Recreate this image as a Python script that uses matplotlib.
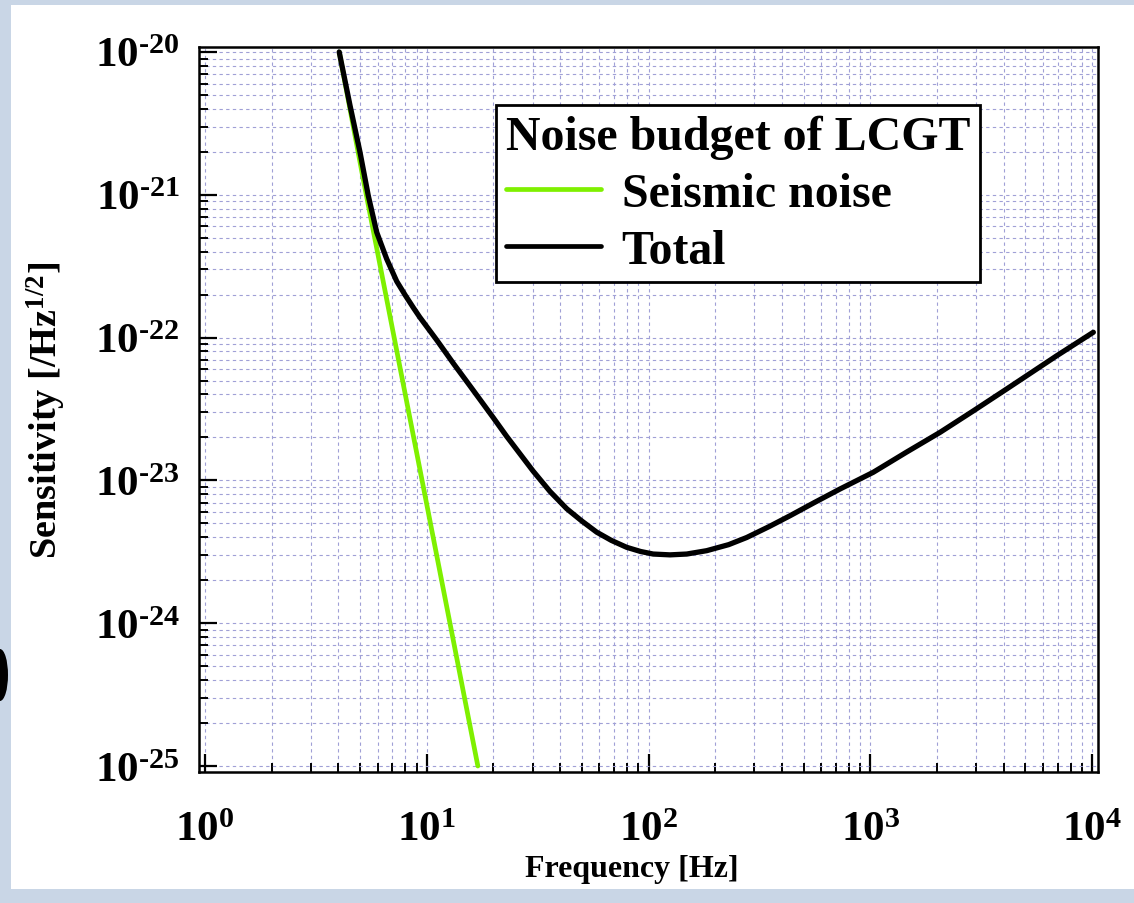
import matplotlib
matplotlib.use("Agg")
import matplotlib.pyplot as plt
from matplotlib.patches import Rectangle, Ellipse
from matplotlib.ticker import LogLocator, FixedLocator, FuncFormatter, NullFormatter
import numpy as np

plt.rcParams['font.family'] = ['Liberation Serif', 'DejaVu Serif']
plt.rcParams['font.weight'] = 'bold'
plt.rcParams['mathtext.fontset'] = 'custom'
plt.rcParams['mathtext.rm'] = 'Liberation Serif:bold'
plt.rcParams['mathtext.bf'] = 'Liberation Serif:bold'
plt.rcParams['mathtext.it'] = 'Liberation Serif:bold'

# ---- data ----
freq_total = [4.03, 4.51, 5.0, 5.45, 5.95, 6.6, 7.32, 8.0, 8.7, 9.3, 11.1, 13.2,
              15.7, 19.95, 22.9, 30.2, 36.0, 42.8, 50.0, 58.4, 68.0, 79.7, 92.0,
              105, 125, 148.7, 183, 230, 277, 350, 435, 560, 731, 1032, 1450,
              2064, 2900, 4125, 6930, 10140]
sens_total = [1.0e-20, 4.21e-21, 1.99e-21, 9.86e-22, 5.46e-22, 3.55e-22, 2.48e-22,
              1.98e-22, 1.62e-22, 1.39e-22, 9.6e-23, 6.58e-23,
              4.57e-23, 2.75e-23, 2.04e-23, 1.16e-23, 8.35e-24, 6.33e-24, 5.2e-24,
              4.34e-24, 3.8e-24, 3.40e-24, 3.18e-24,
              3.05e-24, 3.01e-24, 3.05e-24, 3.22e-24, 3.55e-24, 3.98e-24, 4.75e-24,
              5.66e-24, 7.0e-24, 8.71e-24, 1.14e-23, 1.57e-23,
              2.17e-23, 3.05e-23, 4.37e-23, 7.46e-23, 1.09e-22]
freq_seismic = [4.03, 5.17, 17.0]
sens_seismic = [1.0e-20, 1.29e-21, 1.0e-25]

x_major = [1e0, 1e1, 1e2, 1e3, 1e4]
y_major = [1e-25, 1e-24, 1e-23, 1e-22, 1e-21, 1e-20]

legend_title = "Noise budget of LCGT"
series_labels = ["Seismic noise", "Total"]

fig = plt.figure(figsize=(11.34, 9.04), dpi=100)
fig.patch.set_facecolor('#c9d6e6')
# white slide panel
fig.add_artist(Rectangle((11/1134, 1-890/904), 1-11/1134, (890-6)/904,
                         transform=fig.transFigure, facecolor='white',
                         edgecolor='none', zorder=0))
fig.add_artist(Ellipse((0, 1-676/904), 16/1134, 52/904, transform=fig.transFigure,
                       facecolor='black', edgecolor='none', zorder=1))

ax = fig.add_axes([199/1134, 1-773/904, (1098-199)/1134, (773-48)/904])
ax.set_xscale('log')
ax.set_yscale('log')

ax.plot(freq_seismic, sens_seismic, color='#7ff000', lw=3.4, solid_capstyle='round',
        label=series_labels[0], zorder=3)
ax.plot(freq_total, sens_total, color='black', lw=3.8, solid_capstyle='round',
        solid_joinstyle='round', label=series_labels[1], zorder=4)

ax.set_xlim(10**-0.027, 10**4.027)
ax.set_ylim(10**-25.042, 10**-19.965)

ax.xaxis.set_major_locator(FixedLocator(x_major))
ax.yaxis.set_major_locator(FixedLocator(y_major))
ax.xaxis.set_minor_locator(LogLocator(base=10, subs=np.arange(2, 10), numticks=50))
ax.yaxis.set_minor_locator(LogLocator(base=10, subs=np.arange(2, 10), numticks=50))

def fmt(v, pos):
    e = int(round(np.log10(v)))
    if e < 0:
        return r'$\mathbf{10^{\text{-}%d}}$' % (-e)
    return r'$\mathbf{10^{%d}}$' % e

ax.xaxis.set_major_formatter(FuncFormatter(fmt))
ax.yaxis.set_major_formatter(FuncFormatter(fmt))
ax.xaxis.set_minor_formatter(NullFormatter())
ax.yaxis.set_minor_formatter(NullFormatter())

ax.tick_params(which='both', direction='in', top=False, right=False, colors='black')
ax.tick_params(which='major', length=13, width=1.6, labelsize=31)
ax.tick_params(axis='y', which='major', pad=14)
ax.tick_params(axis='x', which='major', pad=28)
ax.tick_params(which='minor', length=6.5, width=1.4)

ax.grid(True, which='both', color='#a0a0d6', linestyle=(0, (3, 3)), linewidth=0.8)
for s in ax.spines.values():
    s.set_linewidth(1.8)
ax.set_axisbelow(True)

ax.set_xlabel('Frequency [Hz]', fontsize=23, fontweight='bold')
ax.set_ylabel(r'Sensitivity [/Hz$^{\mathbf{1/2}}$]', fontsize=27.5, fontweight='bold')
ax.xaxis.set_label_coords(0.4817, -0.113)
ax.yaxis.set_label_coords(-0.146, 0.5)

leg = ax.legend(loc='upper left', bbox_to_anchor=((496-199)/899, 1-(106-48)/725),
                title=legend_title, fontsize=34.5,
                title_fontproperties={'size': 34.5, 'weight': 'bold'},
                frameon=True, fancybox=False, shadow=False, handlelength=2.0,
                handletextpad=0.42, borderpad=0.2, labelspacing=0.27, borderaxespad=0,
                alignment='left')
leg.get_frame().set_edgecolor('black')
leg.get_frame().set_linewidth(2.0)
leg.get_frame().set_alpha(1)
for line in leg.get_lines():
    line.set_linewidth(3.4)

fig.savefig('out.png', dpi=100, facecolor=fig.get_facecolor())
